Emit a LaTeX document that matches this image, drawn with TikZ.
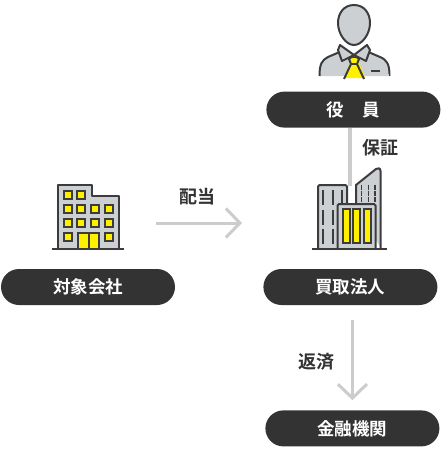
\documentclass[tikz,border=0pt]{standalone}
\usepackage{fontspec}
\setmainfont{Noto Sans CJK JP}[BoldFont={* Bold}]
\usetikzlibrary{arrows.meta, positioning}
\definecolor{pillcolor}{RGB}{51,51,51}
\definecolor{linecolor}{RGB}{60,60,62}
\definecolor{iconcolor}{RGB}{205,208,211}
\definecolor{flowcolor}{RGB}{204,204,204}
\definecolor{lampcolor}{RGB}{255,240,0}
\begin{document}
\begin{tikzpicture}[
  x=1pt, y=-1pt,
  node distance=88pt,
  pill/.style={fill=pillcolor, rounded corners=18pt, minimum width=174pt,
               minimum height=36pt, inner sep=0pt, text=white, font=\fontsize{17.5}{20}\selectfont\bfseries},
  tag/.style={font=\fontsize{18}{20}\selectfont\bfseries, text=pillcolor, inner sep=0pt},
  flow/.style={-{Straight Barb[length=14pt, width=29pt]}, line width=3pt, flowcolor},
  link/.style={line width=4pt, flowcolor},
  icon/.style={draw=linecolor, fill=iconcolor, line width=2pt, line join=round},
  lamp/.style={draw=linecolor, fill=lampcolor, line width=2pt},
  ground/.style={draw=linecolor, line width=2.5pt},
  slit/.style={draw=linecolor, line width=2pt}
]
\useasboundingbox (0,0) rectangle (440,450);

\node[pill] (target) at (88,287) {対象会社};
\node[pill, right=88pt of target] (buyer) {買取法人};
\node[pill, above=141pt of buyer, xshift=3pt] (officer) {役\hspace{18pt}員};
\node[pill, below=105pt of buyer, xshift=2pt] (bank) {金融機関};

% connectors
\coordinate (towertop) at (349.5,186);
\coordinate (payfrom) at (156,223);
\coordinate (payto) at (242,223);
\draw[link] (officer.south -| towertop) -- (towertop);
\draw[flow] (payfrom) -- (payto);
\draw[flow, shorten <=15pt, shorten >=10pt] (bank.north |- buyer.south) -- (bank.north);

\node[tag] (pay) at (197,197) {配当};
\node[tag] (guarantee) at (380,148) {保証};
\node[tag] (repay) at (316,362) {返済};

% person
\draw[icon] (319.5,76) .. controls (319.5,64) and (322,60) .. (328,57)
  -- (342,51) -- (354,58) -- (366,51) -- (380,57)
  .. controls (387,60) and (389.5,64) .. (389.5,76);
\fill[iconcolor] (320.5,74) rectangle (388.5,76);
\draw[icon] (354,5) .. controls (344,5) and (338,13) .. (338,23)
  .. controls (338,34) and (346,45) .. (354,45)
  .. controls (362,45) and (370,34) .. (370,23)
  .. controls (370,13) and (364,5) .. (354,5) -- cycle;
\draw[icon] (340,45) -- (338,50) -- (342,61) -- (354,55) -- (366,61) -- (370,50) -- (367,45) -- (354,55) -- cycle;
\fill[lampcolor] (350,58) -- (358,58) -- (360,65) -- (365,78) -- (344,78) -- (349,65) -- cycle;
\draw[slit] (354,55) -- (349,59) -- (351,64) -- (344,79);
\draw[slit] (354,55) -- (359,59) -- (357,64) -- (364,79);
\draw[slit] (351,64) -- (357,64);
\draw[slit] (371,71) -- (380,71);

% left building
\draw[icon] (58,249) -- (58,185) -- (92,185) -- (92,196) -- (119,196) -- (119,249);
\foreach \x in {68,81,95,109}
  \foreach \y in {209,223}
    \node[lamp, minimum size=8pt, inner sep=0pt] (w\x\y) at (\x,\y) {};
\foreach \x in {68,81}
  \node[lamp, minimum size=8pt, inner sep=0pt] (t\x) at (\x,195) {};
\foreach \x in {68,109}
  \node[lamp, minimum size=8pt, inner sep=0pt] (b\x) at (\x,237) {};
\draw[lamp] (78,249) rectangle (99,233);
\draw[slit] (88.5,233) -- (88.5,249);
\draw[ground] (52,249) -- (124,249);

% right building
\draw[icon] (356,204) -- (356,185) -- (376,169) .. controls (378,167.5) and (380.5,168) .. (380.5,171) -- (380.5,248);
\foreach \x in {361.5,368.5,375}
  \foreach \y in {187,193,199}
    \draw[slit, line width=1.5pt] (\x,\y-2.5) -- (\x,\y+2.5);
\draw[icon, rounded corners=1.5pt] (318,248) -- (318,185) -- (347,185) -- (347,248);
\foreach \x in {323,332.5,342}
  \foreach \y in {190,210,229}
    \draw[slit] (\x,\y) -- (\x,\y+15);
\draw[icon, rounded corners=1.5pt] (337.5,248) -- (337.5,204) -- (375.5,204) -- (375.5,248);
\foreach \x in {346,356.5,367}
  \draw[lamp] (\x-3.5,209) rectangle (\x+3.5,243);
\draw[ground] (312,249) -- (387,249);
\end{tikzpicture}
\end{document}
